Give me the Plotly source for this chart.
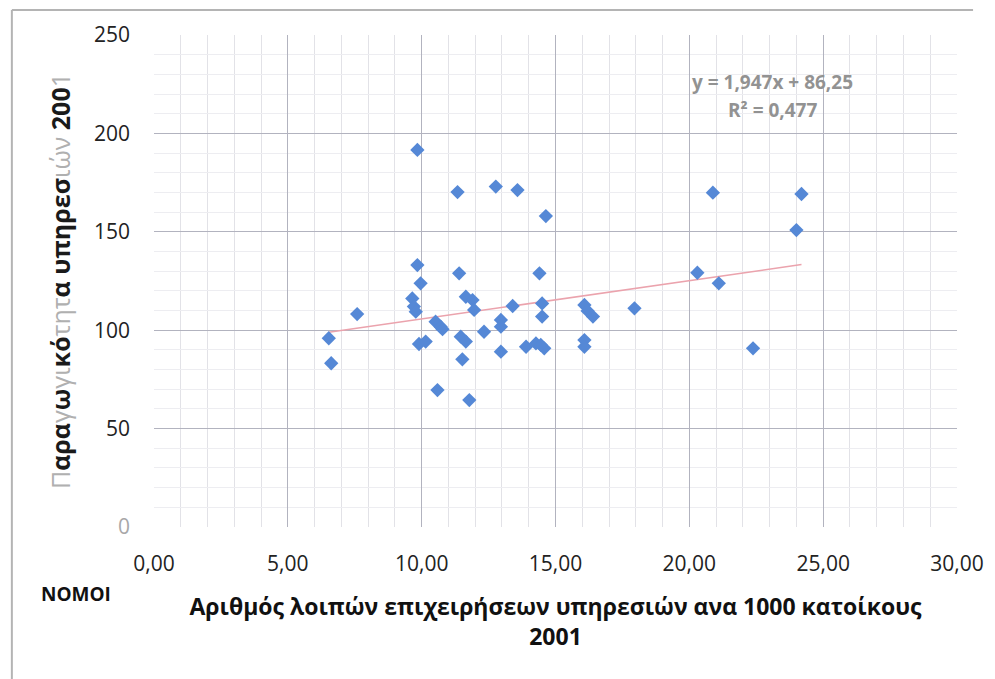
"""
Scatter of service productivity vs. service businesses per 1000 inhabitants (2001),
with the linear trendline and its equation, Excel style.
"""
import numpy as np
import plotly.graph_objects as go

# businesses per 1000 inhabitants, 2001
businesses = [6.53, 6.62, 7.59, 9.84, 9.84, 9.96, 9.65, 9.71, 9.78, 9.90,
              10.15, 10.52, 10.71, 10.78, 10.59, 11.34, 11.40, 11.46, 11.65, 11.52,
              11.65, 11.90, 11.96, 11.78, 12.33, 12.77, 12.96, 12.96, 12.96, 13.40,
              13.58, 13.90, 14.27, 14.40, 14.50, 14.50, 14.58, 14.64, 14.45, 16.08,
              16.40, 16.20, 16.08, 16.08, 17.95, 20.30, 20.88, 21.10, 22.38, 24.00,
              24.19]
# productivity of services, 2001
productivity = [95.9, 83.2, 108.2, 191.6, 133.1, 123.8, 116.1, 112.0, 109.4, 93.0,
                94.2, 104.3, 101.8, 100.5, 69.6, 170.2, 128.9, 96.7, 94.2, 85.2,
                117.0, 115.3, 110.3, 64.5, 99.2, 173.0, 105.2, 101.8, 89.1, 112.3,
                171.2, 91.6, 93.3, 128.9, 113.6, 106.9, 90.8, 158.0, 92.5, 112.8,
                106.9, 109.8, 95.0, 91.6, 111.1, 129.2, 169.9, 123.8, 90.8, 150.9,
                169.2]

# trendline as printed on the chart
slope = 1.947
intercept = 86.25
r_squared = 0.477

x_ticks = [0, 5, 10, 15, 20, 25, 30]
x_tick_labels = ["0,00", "5,00", "10,00", "15,00", "20,00", "25,00", "30,00"]
y_ticks = [0, 50, 100, 150, 200, 250]
y_tick_labels = ["<span style='color:#a8a8a8'>0</span>", "50", "100", "150", "200", "250"]

FONT = "'Open Sans', 'Noto Sans', sans-serif"
FADED = "#b0b0b0"  # parts of the scanned y title that came out faded


def faded(s):
    return f"<span style='color:{FADED}'>{s}</span>"


y_title = (faded("Π") + "<b>αρα</b>" + faded("γ") + "<b>ω</b>" + faded("γι")
           + "<b>κό</b>" + faded("τητ") + "<b>α υπηρεσ</b>" + faded("ιών")
           + "<b> 200</b>" + faded("1"))

fig = go.Figure()

# Trendline across the range of the data
trend_x = np.array([min(businesses), max(businesses)])
fig.add_trace(
    go.Scatter(
        x=trend_x,
        y=slope * trend_x + intercept,
        mode="lines",
        line=dict(color="#eba3ad", width=1.6),
        showlegend=False,
        hoverinfo="skip",
    )
)

# The prefectures
fig.add_trace(
    go.Scatter(
        x=businesses,
        y=productivity,
        mode="markers",
        marker=dict(symbol="diamond", size=11, color="#5588d6"),
        showlegend=False,
    )
)

# Equation of the trendline (two lines, as Excel places them)
fig.add_annotation(
    x=23.1, y=226, xref="x", yref="y",
    text="<b>" + f"y = {slope:.3f}x + {intercept:.2f}".replace(".", ",") + "</b>",
    showarrow=False,
    font=dict(family=FONT, size=19, color="#929292"),
)
fig.add_annotation(
    x=23.1, y=212, xref="x", yref="y",
    text="<b>" + f"R² = {r_squared:.3f}".replace(".", ",") + "</b>",
    showarrow=False,
    font=dict(family=FONT, size=19, color="#929292"),
)

# Label outside the plot area
fig.add_annotation(
    x=-0.143, y=-0.136, xref="paper", yref="paper",
    text="<b>ΝΟΜΟΙ</b>",
    showarrow=False,
    xanchor="left",
    yanchor="middle",
    font=dict(family=FONT, size=19, color="#111111"),
)

# Outer chart frame (top and left edges visible in the picture)
fig.add_shape(
    type="line", xref="paper", yref="paper",
    x0=-0.177, x1=1.02, y0=1.051, y1=1.051,
    line=dict(color="#b4b4b4", width=2),
)
fig.add_shape(
    type="line", xref="paper", yref="paper",
    x0=-0.177, x1=-0.177, y0=1.051, y1=-0.34,
    line=dict(color="#b4b4b4", width=2),
)

fig.update_xaxes(
    range=[0, 30],
    tickvals=x_ticks,
    ticktext=x_tick_labels,
    ticks="",
    showline=False,
    zeroline=False,
    showgrid=True,
    gridcolor="#b2b3bf",
    gridwidth=1,
    minor=dict(dtick=1, showgrid=True, gridcolor="#e2e2e7", gridwidth=1),
    tickfont=dict(family=FONT, size=21, color="#222222"),
    ticklabelstandoff=22,
    title=dict(
        text="<b>Αριθμός λοιπών επιχειρήσεων υπηρεσιών ανα 1000 κατοίκους<br>2001</b>",
        font=dict(family=FONT, size=23, color="#111111"),
        standoff=22,
    ),
)

fig.update_yaxes(
    range=[0, 250],
    tickvals=y_ticks,
    ticktext=y_tick_labels,
    ticks="",
    showline=False,
    zeroline=False,
    showgrid=True,
    gridcolor="#b2b3bf",
    gridwidth=1,
    minor=dict(dtick=10, showgrid=True, gridcolor="#ededf1", gridwidth=1),
    tickfont=dict(family=FONT, size=21, color="#222222"),
    ticklabelstandoff=23,
    title=dict(
        text=y_title,
        font=dict(family=FONT, size=25, color="#1a1a1a"),
        standoff=16,
    ),
)

# The page adds an 8px body margin, so the figure is offset by 8px
fig.update_layout(
    width=987,
    height=671,
    margin=dict(l=146, r=38, t=27, b=152, autoexpand=False),
    plot_bgcolor="white",
    paper_bgcolor="white",
    font=dict(family=FONT),
)

fig.write_html("out.html")
